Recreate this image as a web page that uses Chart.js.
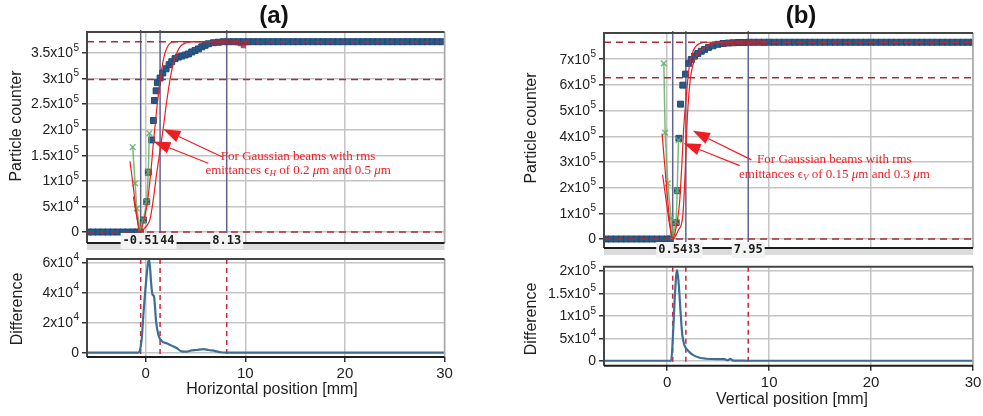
<!DOCTYPE html>
<html>
<head>
<meta charset="utf-8">
<script src="https://cdn.jsdelivr.net/npm/chart.js@4.4.0/dist/chart.umd.min.js"></script>
<style>
  body { margin: 0; background: #fff; }
  #wrap { position: relative; width: 983px; height: 416px; overflow: hidden; font-family: "Liberation Sans", Arial, sans-serif; }
  canvas { position: absolute; }
  .lbl { position: absolute; color: #1e1e1e; font-size: 16px; white-space: nowrap; transform: translate(-50%, -50%); }
  .rot { transform: translate(-50%, -50%) rotate(-90deg); }
  .ttl { font-weight: bold; font-size: 24px; color: #111; }
</style>
</head>
<body>
<div id="wrap">
  <canvas id="countA" width="470" height="262" style="left:0;top:0"></canvas>
  <canvas id="diffA" width="470" height="171" style="left:0;top:245px"></canvas>
  <canvas id="countB" width="510" height="266" style="left:490px;top:0"></canvas>
  <canvas id="diffB" width="510" height="164" style="left:490px;top:252px"></canvas>

  <div class="lbl ttl" style="left:274px;top:15px">(a)</div>
  <div class="lbl ttl" style="left:801px;top:15px">(b)</div>
  <div class="lbl rot" style="left:16px;top:126px">Particle counter</div>
  <div class="lbl rot" style="left:17px;top:309px">Difference</div>
  <div class="lbl rot" style="left:531px;top:128px">Particle counter</div>
  <div class="lbl rot" style="left:531px;top:319px">Difference</div>
  <div class="lbl" style="left:272px;top:389px">Horizontal position [mm]</div>
  <div class="lbl" style="left:792px;top:399px">Vertical position [mm]</div>
</div>

<script>
// ---- horizontal scan (a) ----
const scanXA = [-5.8, -5.3, -4.8, -4.3, -3.8, -3.3, -2.8, -2.3, -1.8, -1.3, -0.9, -0.55,
  -0.24, 0.1, 0.26, 0.6, 0.77, 0.87, 1.04, 1.17, 1.44, 1.71, 2.04, 2.34, 2.61, 2.94, 3.28, 3.62,
  3.95, 4.28, 4.62, 4.95, 5.29, 5.63, 5.96, 6.29, 6.8, 7.3, 7.8, 8.3, 8.8, 9.3, 9.8,
  10.3, 10.8, 11.3, 11.8, 12.3, 12.8, 13.3, 13.8, 14.3, 14.8, 15.3, 15.8, 16.3, 16.8, 17.3, 17.8,
  18.3, 18.8, 19.3, 19.8, 20.3, 20.8, 21.3, 21.8, 22.3, 22.8, 23.3, 23.8, 24.3, 24.8, 25.3, 25.8,
  26.3, 26.8, 27.3, 27.8, 28.3, 28.8, 29.3, 29.8];
const scanYA = [0, 0, 0, 0, 0, 0, 0, 0, 0, 0, 0, 0,
  23500, 59000, 117000, 180000, 218000, 257000, 276000, 292000, 301000, 311000, 319000, 327000,
  333000, 339000, 342000, 344000, 346000, 348000, 352000, 355000, 358000, 362000, 365000, 368000,
  370000, 371000, 372000, 372000, 372000, 372000, 372000,
  372000, 372000, 372000, 372000, 372000, 372000, 372000, 372000, 372000, 372000,
  372000, 372000, 372000, 372000, 372000, 372000, 372000, 372000, 372000, 372000,
  372000, 372000, 372000, 372000, 372000, 372000, 372000, 372000, 372000, 372000,
  372000, 372000, 372000, 372000, 372000, 372000, 372000, 372000, 372000, 372000];
const tailXA = [6.8, 7.1, 7.4, 7.7, 8.0, 8.3, 8.6, 8.9, 9.2, 9.5, 9.8, 10.1];
const tailYA = [370000, 371000, 372000, 371000, 373000, 372000, 371000, 372000, 370000, 368000, 364000, 370000];
const greenXA = [-1.31, -1.07, -0.9, -0.57, -0.24, 0.1, 0.26, 0.36];
const greenYA = [166000, 95000, 46000, 3000, 23000, 59000, 117000, 193000];
const narrowXA = [-1.58, -1.2, -0.9, -0.57, -0.3, 0.1, 0.5, 0.77, 1.1, 1.44, 1.77, 2.27, 2.94, 4.0, 6.0];
const narrowYA = [138000, 80000, 32000, 0, 15000, 50000, 115000, 175000, 240000, 295000, 337000, 365000, 372000, 372000, 372000];
const wideXA = [-1.24, -0.95, -0.57, -0.1, 0.43, 0.77, 1.1, 1.44, 1.77, 2.1, 2.6, 3.28, 4.1, 5.1, 6.5];
const wideYA = [69000, 35000, 0, 8000, 25000, 65000, 115000, 160000, 205000, 255000, 315000, 357000, 370000, 372000, 372000];
const levelsA = [0, 298000, 372000];
const marksA = [-0.51, 1.44, 8.13];
const markTagsA = ['-0.51', '1.44', '8.13'];
const countTicksA = [0, 50000, 100000, 150000, 200000, 250000, 300000, 350000];
const diffXA = [-5.9, -2, -0.8, -0.64, -0.4, -0.24, 0.03, 0.26, 0.36, 0.53, 0.67, 0.83, 1.04, 1.27, 1.6,
  2.1, 2.6, 3.1, 3.6, 4.12, 4.6, 5.1, 5.8, 6.3, 7.0, 7.5, 8.1, 15, 30];
const diffYA = [0, 0, 0, 700, 9600, 25000, 47000, 60500, 61500, 47000, 38800, 37200, 20600, 11800, 7800,
  6200, 4700, 3100, 900, 700, 1600, 1800, 2400, 1800, 1100, 300, 0, 0, 0];
const diffTicksA = [0, 20000, 40000, 60000];

// ---- vertical scan (b) ----
const scanXB = [-6.0, -5.5, -5.0, -4.5, -4.0, -3.5, -3.0, -2.5, -2.0, -1.5, -1.0, -0.5, 0.0, 0.3,
  0.88, 1.0, 1.15, 1.31, 1.53, 1.8, 2.12, 2.36, 2.68, 3.0, 3.34, 3.67, 4.06, 4.49, 4.98, 5.47,
  6.0, 6.5, 7.0, 7.5, 8.0, 8.5, 9.0, 9.5, 10.0,
  10.5, 11.0, 11.5, 12.0, 12.5, 13.0, 13.5, 14.0, 14.5, 15.0, 15.5, 16.0, 16.5, 17.0, 17.5, 18.0,
  18.5, 19.0, 19.5, 20.0, 20.5, 21.0, 21.5, 22.0, 22.5, 23.0, 23.5, 24.0, 24.5, 25.0, 25.5, 26.0,
  26.5, 27.0, 27.5, 28.0, 28.5, 29.0, 29.5, 30.0];
const scanYB = [0, 0, 0, 0, 0, 0, 0, 0, 0, 0, 0, 0, 0, 0,
  64000, 188000, 392000, 525000, 599000, 642000, 684000, 699000, 712000, 722000, 731000, 738000,
  746000, 752000, 758000, 761000,
  763000, 764000, 765000, 765000, 766000, 766000, 766000, 766000, 766000,
  766000, 766000, 766000, 766000, 766000, 766000, 766000, 766000, 766000, 766000,
  766000, 766000, 766000, 766000, 766000, 766000, 766000, 766000, 766000, 766000,
  766000, 766000, 766000, 766000, 766000, 766000, 766000, 766000, 766000, 766000,
  766000, 766000, 766000, 766000, 766000, 766000, 766000, 766000, 766000, 766000];
const tailXB = [5.6, 5.9, 6.2, 6.5, 6.8, 7.1, 7.4, 7.7, 8.0, 8.3, 8.6, 8.9, 9.2, 9.5];
const tailYB = [760000, 762000, 763000, 761000, 764000, 765000, 763000, 766000, 764000, 765000, 763000, 766000, 764000, 762000];
const greenXB = [-0.33, -0.2, 0.06, 0.39, 0.55, 0.88, 0.98, 1.11];
const greenYB = [684000, 414000, 217000, 80000, 10000, 67000, 188000, 385000];
const narrowXB = [-0.5, -0.1, 0.25, 0.55, 0.9, 1.21, 1.45, 1.6, 1.87, 2.12, 2.52, 3.18, 4.0, 6.0];
const narrowYB = [410000, 220000, 70000, 0, 50000, 140000, 300000, 420000, 554000, 658000, 729000, 761000, 766000, 766000];
const wideXB = [-0.45, 0.0, 0.3, 0.55, 1.1, 1.53, 1.75, 1.9, 2.0, 2.26, 2.68, 3.34, 4.33, 5.3, 6.5];
const wideYB = [250000, 120000, 40000, 0, 35000, 90000, 250000, 400000, 489000, 619000, 697000, 735000, 759000, 765000, 766000];
const levelsB = [0, 628000, 766000];
const marksB = [0.54, 1.83, 7.95];
const markTagsB = ['0.54', '1.83', '7.95'];
const countTicksB = [0, 100000, 200000, 300000, 400000, 500000, 600000, 700000];
const diffXB = [-6.2, 0, 0.39, 0.55, 0.72, 0.88, 0.98, 1.14, 1.31, 1.47, 1.7, 2.03, 2.52, 3.18, 3.83,
  4.8, 5.6, 5.96, 6.2, 6.4, 6.95, 8, 30];
const diffYB = [0, 0, 0, 49000, 131000, 190000, 202000, 168000, 109000, 60000, 34000, 23000, 13000, 6700, 4500,
  3800, 3800, 1000, 4500, 1000, 500, 0, 0];
const diffTicksB = [0, 50000, 100000, 150000, 200000];

const posTicks = [0, 10, 20, 30];

Chart.defaults.font.family = '"Liberation Sans", Arial, sans-serif';
Chart.defaults.color = '#222';

// split a tick value into mantissa text and power of ten
function sci(v) {
  if (v === 0) return ['0', ''];
  const e = Math.floor(Math.log10(v) + 1e-9);
  const m = +(v / Math.pow(10, e)).toFixed(2);
  return [m + 'x10', String(e)];
}

const pts = (xs, ys) => xs.map((x, i) => ({ x, y: ys[i] }));

function arrow(ctx, x0, y0, x1, y1) {
  const a = Math.atan2(y1 - y0, x1 - x0), L = 17, W = 6;
  const bx = x1 - L * Math.cos(a), by = y1 - L * Math.sin(a);
  ctx.beginPath(); ctx.moveTo(x0, y0); ctx.lineTo(bx, by); ctx.stroke();
  ctx.beginPath();
  ctx.moveTo(x1, y1);
  ctx.lineTo(bx - W * Math.sin(a), by + W * Math.cos(a));
  ctx.lineTo(bx + W * Math.sin(a), by - W * Math.cos(a));
  ctx.closePath(); ctx.fill();
}

// one line of the red note, made of [text, style] pieces
function richLine(ctx, segs, cx, cy) {
  const fontOf = st => (st ? 'italic ' : '') + (st === 'sub' ? 9 : 13) + 'px "Liberation Serif", "Times New Roman", serif';
  let w = 0;
  segs.forEach(([t, st]) => { ctx.font = fontOf(st); w += ctx.measureText(t).width; });
  let x = cx - w / 2;
  ctx.textAlign = 'left';
  ctx.textBaseline = 'middle';
  segs.forEach(([t, st]) => {
    ctx.font = fontOf(st);
    ctx.fillText(t, x, cy + (st === 'sub' ? 3 : 0));
    x += ctx.measureText(t).width;
  });
}

function decor(p) {
  return {
    id: 'decor',
    beforeDatasetsDraw(chart) {
      const { ctx, chartArea: a, scales: { x } } = chart;
      ctx.save();
      ctx.lineWidth = 1.5;
      ctx.strokeStyle = p.markColor;
      ctx.setLineDash(p.markDash);
      p.marks.forEach(v => {
        const px = x.getPixelForValue(v);
        ctx.beginPath(); ctx.moveTo(px, a.top - p.markRise); ctx.lineTo(px, a.bottom); ctx.stroke();
      });
      ctx.restore();
    },
    afterDatasetsDraw(chart) {
      if (!p.levels) return;
      const { ctx, chartArea: a, scales: { y } } = chart;
      ctx.save();
      ctx.strokeStyle = '#a3303c'; ctx.lineWidth = 1.5; ctx.setLineDash([7, 5]);
      p.levels.forEach(v => {
        const py = y.getPixelForValue(v);
        ctx.beginPath(); ctx.moveTo(a.left, py); ctx.lineTo(a.right, py); ctx.stroke();
      });
      ctx.restore();
    },
    afterDraw(chart) {
      const { ctx, chartArea: a, scales: { x, y } } = chart;
      ctx.save();
      // frame
      ctx.lineWidth = 1.5;
      ctx.strokeStyle = '#a8a8a8';
      ctx.beginPath(); ctx.moveTo(a.right, a.top); ctx.lineTo(a.right, a.bottom); ctx.stroke();
      ctx.strokeStyle = '#454545';
      ctx.lineWidth = 2;
      ctx.beginPath(); ctx.moveTo(a.left, a.bottom); ctx.lineTo(a.left, a.top); ctx.lineTo(a.right, a.top); ctx.stroke();
      ctx.strokeStyle = '#1e1e1e';
      ctx.beginPath(); ctx.moveTo(a.left, a.bottom); ctx.lineTo(a.right, a.bottom); ctx.stroke();

      // y tick labels with raised exponents
      ctx.fillStyle = '#222';
      ctx.textBaseline = 'middle';
      y.ticks.forEach(t => {
        const [base, exp] = sci(t.value);
        const py = y.getPixelForValue(t.value);
        const right = a.left - 8;
        ctx.font = '10px "Liberation Sans", Arial, sans-serif';
        const ew = exp ? ctx.measureText(exp).width + 0.5 : 0;
        ctx.textAlign = 'left';
        if (exp) ctx.fillText(exp, right - ew + 0.5, py - 5);
        ctx.font = '14px "Liberation Sans", Arial, sans-serif';
        ctx.textAlign = 'right';
        ctx.fillText(base, right - ew, py + 0.5);
      });

      // position read-outs under the counter plot
      if (p.tags) {
        ctx.fillStyle = '#dcdcdc';
        ctx.fillRect(a.left, a.bottom + 1, a.right - a.left, 6);
        ctx.font = 'bold 12px "DejaVu Sans Mono", monospace';
        ctx.textAlign = 'center';
        ctx.textBaseline = 'middle';
        for (let i = p.marks.length - 1; i >= 0; i--) {
          const px = x.getPixelForValue(p.marks[i]);
          const w = ctx.measureText(p.tags[i]).width + 4;
          const cy = a.bottom + p.tagShift;
          ctx.fillStyle = '#f3f3f3';
          ctx.fillRect(px - w / 2, cy - 8, w, 16);
          ctx.fillStyle = '#1c1c1c';
          ctx.fillText(p.tags[i], px, cy);
        }
      }

      if (p.note) {
        const n = p.note;
        ctx.fillStyle = ctx.strokeStyle = '#ee1d23';
        ctx.lineWidth = 1.2;
        n.arrows.forEach(([x0, y0, x1, y1]) =>
          arrow(ctx, x.getPixelForValue(x0), y.getPixelForValue(y0), x.getPixelForValue(x1), y.getPixelForValue(y1)));
        n.lines.forEach((segs, i) => richLine(ctx, segs, x.getPixelForValue(n.x), y.getPixelForValue(n.y[i])));
      }
      ctx.restore();
    }
  };
}

function scales(c) {
  return {
    x: {
      type: 'linear', min: c.xMin, max: c.xMax, bounds: 'data',
      afterBuildTicks: s => { s.ticks = posTicks.map(value => ({ value })); },
      afterFit: s => { s.height = c.xHeight; },
      border: { display: false },
      grid: { color: '#c4c4c4', lineWidth: 1.5, drawTicks: c.xHeight > 0, tickLength: 5, tickColor: '#333' },
      ticks: { display: c.xHeight > 0, autoSkip: false, maxRotation: 0, padding: 3, font: { size: 15 }, color: '#222' }
    },
    y: {
      type: 'linear', min: c.yMin, max: c.yMax, bounds: 'data',
      afterBuildTicks: s => { s.ticks = c.yTicks.map(value => ({ value })); },
      afterFit: s => { s.width = c.yWidth; },
      border: { display: false },
      grid: { color: '#c4c4c4', lineWidth: 1.5, tickLength: 5, tickColor: '#333' },
      ticks: { display: false }
    }
  };
}

function panel(id, c, datasets, p) {
  return new Chart(document.getElementById(id), {
    type: 'scatter',
    data: { datasets },
    options: {
      responsive: false,
      animation: false,
      events: [],
      layout: { padding: c.pad },
      plugins: { legend: { display: false }, tooltip: { enabled: false } },
      scales: scales(c)
    },
    plugins: [decor(p)]
  });
}

function countSets(scanX, scanY, tailX, tailY, greenX, greenY, narrowX, narrowY, wideX, wideY) {
  const fit = (xs, ys) => ({
    data: pts(xs, ys), showLine: true, borderColor: '#ee1c1c', borderWidth: 1.2,
    pointRadius: 0, cubicInterpolationMode: 'monotone', order: 1
  });
  return [
    fit(narrowX, narrowY),
    fit(wideX, wideY),
    {
      data: pts(greenX, greenY), showLine: true, borderColor: 'rgba(100,175,100,0.85)', borderWidth: 1.5,
      pointStyle: 'crossRot', pointRadius: 4, pointBorderWidth: 1.5, order: 2
    },
    {
      data: pts(tailX, tailY), pointStyle: 'rect', pointRadius: 3.6,
      backgroundColor: 'rgba(145,48,68,0.8)', borderWidth: 0, order: 3
    },
    {
      data: pts(scanX, scanY), pointStyle: 'rect', pointRadius: 4.2,
      backgroundColor: '#2b5987', borderColor: '#1f4a78', borderWidth: 1, order: 4
    }
  ];
}

const diffSet = (xs, ys) => [{
  data: pts(xs, ys), showLine: true, borderColor: '#3f6e95', borderWidth: 2.2,
  pointRadius: 0, cubicInterpolationMode: 'monotone'
}];

panel('countA',
  { xMin: -5.9, xMax: 30, yMin: -21500, yMax: 391000, yTicks: countTicksA, yWidth: 87, xHeight: 0,
    pad: { left: 0, right: 25.5, top: 32, bottom: 19 } },
  countSets(scanXA, scanYA, tailXA, tailYA, greenXA, greenYA, narrowXA, narrowYA, wideXA, wideYA),
  { marks: marksA, tags: markTagsA, markColor: '#62628f', markDash: [], markRise: 2, tagShift: -2, levels: levelsA,
    note: {
      x: 15.3, y: [147000, 120500],
      lines: [
        [['For Gaussian beams with rms', '']],
        [['emittances \u03f5', ''], ['H', 'sub'], [' of 0.2 ', ''], ['\u03bc', 'it'], ['m and 0.5 ', ''], ['\u03bc', 'it'], ['m', '']]
      ],
      arrows: [[7.64, 147000, 1.77, 201000], [6.28, 134300, 0.77, 177000]]
    } });

panel('diffA',
  { xMin: -5.9, xMax: 30, yMin: -2850, yMax: 62200, yTicks: diffTicksA, yWidth: 87, xHeight: 30,
    pad: { left: 0, right: 25.5, top: 14, bottom: 29 } },
  diffSet(diffXA, diffYA),
  { marks: marksA, markColor: '#c8283a', markDash: [5, 4], markRise: 0 });

panel('countB',
  { xMin: -6.2, xMax: 30, yMin: -35000, yMax: 802000, yTicks: countTicksB, yWidth: 114, xHeight: 0,
    pad: { left: 0, right: 27, top: 33, bottom: 18 } },
  countSets(scanXB, scanYB, tailXB, tailYB, greenXB, greenYB, narrowXB, narrowYB, wideXB, wideYB),
  { marks: marksB, tags: markTagsB, markColor: '#62628f', markDash: [], markRise: 2, tagShift: 2, levels: levelsB,
    note: {
      x: 16.4, y: [308000, 252000],
      lines: [
        [['For Gaussian beams with rms', '']],
        [['emittances \u03f5', ''], ['V', 'sub'], [' of 0.15 ', ''], ['\u03bc', 'it'], ['m and 0.3 ', ''], ['\u03bc', 'it'], ['m', '']]
      ],
      arrows: [[8.26, 308000, 2.52, 421000], [7.11, 285500, 1.6, 373000]]
    } });

panel('diffB',
  { xMin: -6.2, xMax: 30, yMin: -11000, yMax: 209800, yTicks: diffTicksB, yWidth: 114, xHeight: 30,
    pad: { left: 0, right: 27, top: 14.7, bottom: 20.3 } },
  diffSet(diffXB, diffYB),
  { marks: marksB, markColor: '#c8283a', markDash: [5, 4], markRise: 0 });
</script>
</body>
</html>
